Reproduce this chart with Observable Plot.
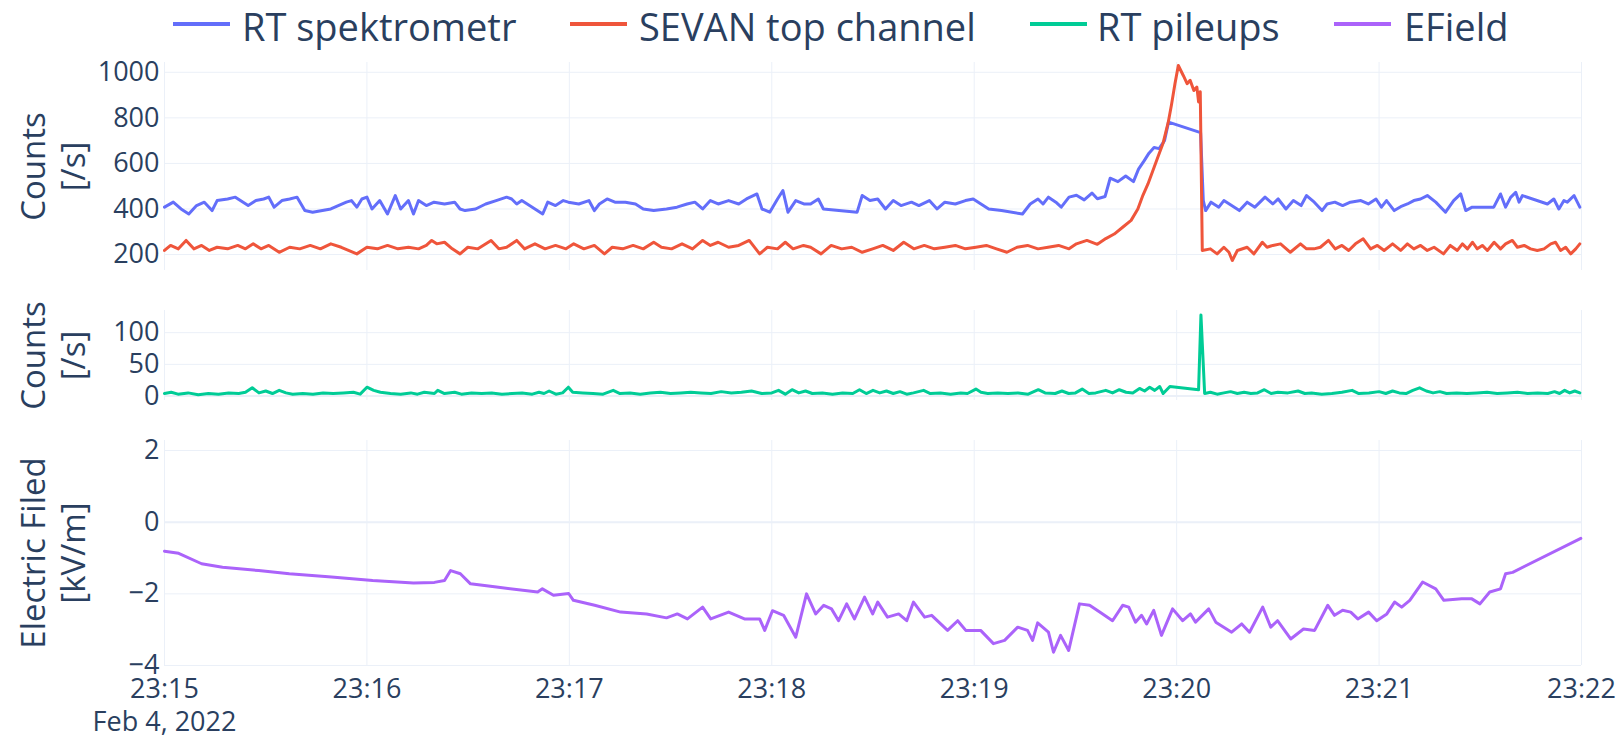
<!DOCTYPE html>
<html><head><meta charset="utf-8">
<script src="https://cdn.jsdelivr.net/npm/d3@7"></script>
<script src="https://cdn.jsdelivr.net/npm/@observablehq/plot@0.6"></script>
<style>
html,body{margin:0;padding:0;background:#fff;}
#chart{position:relative;width:1620px;height:738px;background:#fff;font-family:"Open Sans",sans-serif;color:#2a3f5f;overflow:hidden;}
#chart svg{position:absolute;left:0;overflow:visible;}
.lg-line{position:absolute;height:4px;top:22px;}
.lg-text{position:absolute;top:0px;font-size:38px;line-height:52px;white-space:nowrap;color:#2a3f5f;}
</style></head><body><div id="chart"></div><script>
// ---- legend / series
const seriesNames = ["RT spektrometr", "SEVAN top channel", "RT pileups", "EField"];
const seriesColors = ["#636efa", "#EF553B", "#00cc96", "#ab63fa"];
// ---- axes
const xTickMinutes = [0, 1, 2, 3, 4, 5, 6, 7];
const dateLabel = "Feb 4, 2022";
const countsTicks = [200, 400, 600, 800, 1000];
const pileTicks = [0, 50, 100];
const efTicks = [-4, -2, 0, 2];
const axisTitles = ["Counts\n[/s]", "Counts\n[/s]", "Electric Filed\n[kV/m]"];

// ---- data: seconds after 23:15:00 and values
const rtSpekSec = [
 0,2.6,4.9,7.2,9.5,11.8,14.1,15.6,18.7,21,
 22.5,24.8,27.1,29.4,30.9,32.5,34.8,37.1,39.3,41.6,
 43.9,49.3,53.9,55.4,57,58.5,60,61.5,63.8,66.1,
 68.4,70,72.3,73.8,75.3,77.6,79.9,83,86,87.6,
 89.1,92.2,95.2,98.3,101.4,102.9,104.4,105.9,109,112.1,
 113.6,115.9,118.2,119.7,122.8,125.8,127.4,128.9,131.2,133.5,
 136.6,139.6,141.9,145,148.8,151.9,154.9,157.2,159.5,161.8,
 164.1,167.2,170.2,172.5,175.6,177.1,179.4,181.7,183.3,184.8,
 187.1,189.5,191.5,193.8,195.3,199.9,205.3,206.8,209.1,211.4,
 213.7,216,218.3,221.4,223.6,226.7,229,231.3,234.4,237.4,
 239.7,242,244.3,248.1,254.3,256.6,258.9,260.4,262,264.2,
 265.8,268.1,270.3,272.6,274.9,276.5,278.8,280.3,282.6,284.9,
 287.2,288.7,290.3,291.8,293.3,294.8,296.4,297.6,307.1,307.9,
 308.6,310.2,312.5,314,316.3,318.6,320.9,323.2,326.2,328.5,
 330.1,332.4,334.6,336.9,338.5,340.8,343.1,344.6,346.9,349.2,
 351.5,354.6,356.8,359.1,360.7,362.2,364.5,366.4,368.4,370.3,
 372.3,374.3,376.8,379.7,382.1,384.2,385.7,387.6,394,396,
 397.5,399,400.5,401.5,402.5,409.9,411.8,413.3,414.8,415.8,
 417.8,419.5];
const rtSpekVal = [
 408,430,400,378,415,430,393,437,444,452,
 437,415,437,444,452,408,437,444,452,393,
 386,400,430,437,408,444,452,400,437,378,
 459,400,437,378,437,415,430,422,430,400,
 393,400,422,437,452,444,422,437,408,378,
 430,415,437,430,422,437,393,422,444,430,
 430,422,400,393,400,408,422,430,400,437,
 422,437,422,444,466,400,386,444,481,386,
 437,422,422,444,400,393,386,459,437,444,
 400,437,415,430,415,437,400,430,422,437,
 444,422,400,393,378,422,444,422,452,430,
 408,452,460,440,470,445,455,535,520,545,
 520,575,610,645,670,665,700,781,735,437,
 393,430,408,437,415,393,430,408,452,422,
 444,400,437,415,459,430,393,422,430,415,
 430,437,422,444,408,437,393,410,422,437,
 444,459,430,386,437,466,393,408,408,466,
 408,451,473,430,459,422,444,400,437,430,
 459,408];

const sevanSec = [
 0,1.8,4.1,6.4,8.7,11,13.3,15.6,18.7,21.7,
 24,26.3,28.6,30.9,34,37.1,40.1,43.2,46.2,49.3,
 52.4,57,60,63.1,66.1,69.2,72.3,75.3,77.6,79.2,
 80.7,83,85.3,87.6,89.9,92.9,96.8,99.1,101.4,104.4,
 106.7,109.8,112.8,115.9,119,121.3,124.3,127.4,130.4,132.7,
 135.8,138.9,141.9,145,147.3,150.3,153.4,156.5,159.5,161.8,
 164.1,167.2,170.2,173.3,176.4,178.7,181.7,184,186.3,189.4,
 191.5,194.6,197.6,200.7,203.7,206.8,209.9,212.9,216,219.1,
 222.1,225.2,228.2,231.3,234.4,237.4,240.5,243.6,246.6,249.7,
 252.7,255.8,258.9,261.9,265,268.1,270.3,273.4,276.5,279,
 281.5,284,286.5,288.5,290,291.5,293,294.5,296,297.5,
 298.5,299.5,300.5,302,303.1,304,305.1,306,306.5,307,
 307.6,310,312,314,315.5,316.5,318,320.9,322.9,325.4,
 326.8,328.5,330.8,333.7,336.7,338.5,340.7,342.6,345,347,
 349,351,353,355.3,357.5,359.5,361.5,364,366.4,368.4,
 370.3,372.3,374.3,376.3,379.1,381.1,383.2,384.7,386.2,387.7,
 389.1,390.6,392.1,394.1,396,397.5,399.5,401,403,404.9,
 406.9,408.9,410.9,412.3,413.8,415.3,416.8,418.3,419.5];
const sevanVal = [
 218,240,225,262,225,240,218,232,225,240,
 225,247,225,240,210,232,225,240,225,247,
 232,203,232,225,240,225,232,225,240,262,
 247,254,225,203,232,225,262,225,232,262,
 225,247,225,240,225,247,225,240,203,232,
 225,240,225,254,232,225,247,225,262,240,
 254,232,240,262,203,232,225,254,225,240,
 232,203,240,225,232,210,225,240,218,254,
 225,240,225,232,240,225,232,240,225,210,
 232,240,225,232,240,225,247,262,245,270,
 290,320,350,400,460,510,570,630,690,780,
 860,950,1030,985,950,965,920,935,870,915,
 218,225,203,232,210,174,218,232,203,254,
 232,240,247,210,247,225,225,232,262,225,
 240,218,247,269,225,240,218,247,218,247,
 225,240,218,232,203,240,218,247,225,254,
 225,240,218,254,225,247,262,232,240,225,
 218,225,247,254,218,232,203,225,247];

const pileSec = [
 0,2,4,7,10,13,16,19,22,24,
 26,28,30,32,34,36,38,41,44,47,
 50,53,56,58,60,62,64,67,70,73,
 75,77,80,81,83,86,88,91,94,97,
 100,103,106,109,111,112.5,114,116,118,119.7,
 121,124,127,130,133,135,138,141,144,147,
 150,153,156,159,162,165,168,171,174,177,
 180,182,184,186,188,190,192,195,198,201,
 204,206,208,210,212,214,216,218,220,222,
 225,227,230,233,236,238,240.5,242,244,247,
 250,253,256,259,261,264,266,268,270,272,
 274,276,279,281,283,285,287,289,290.5,292,
 293.5,295,296,298,306.5,307.2,308.3,310,312,314,
 316,318,320,322,324,326,328,330,333,336,
 338,340,343,346,349,352,354,357,360,362,
 364,366,368,370,372,374,376,378,380,383,
 386,389,392,395,398,401,404,407,410,412,
 413.5,415,416.5,418,419.5];
const pileVal = [
 4,6,3,5,2,4,3,5,4,6,
 13,5,8,4,9,5,3,4,3,5,
 4,5,6,3,14,9,6,4,3,5,
 3,6,4,9,4,6,3,5,4,5,
 3,4,5,3,6,4,8,3,5,14,
 6,5,4,3,9,4,5,3,5,6,
 4,5,6,5,4,7,5,6,8,4,
 5,9,3,10,5,8,4,5,3,5,
 4,10,4,9,5,8,4,7,3,5,
 9,4,5,3,5,4,11,6,4,5,
 4,5,3,10,5,4,8,4,5,11,
 4,5,9,5,10,6,5,12,8,14,
 9,15,4,15,10,128,4,6,3,5,
 7,4,6,4,5,10,4,6,5,8,
 4,5,3,4,6,9,4,5,7,4,
 8,5,4,9,13,8,5,7,4,5,
 4,5,6,4,5,6,4,5,4,7,
 4,9,5,8,5];

const efSec = [
 0,4.2,11,17.2,27.9,37,49.5,61.7,73.8,80,
 83,84.8,87.7,90.7,98.4,110.6,112,115.3,119.8,121.2,
 127.5,135.2,142.9,148.8,152,155,159.5,161.9,167.2,171.9,
 176.4,177.9,180.2,183.5,187.1,190.3,193,195.4,197.7,199.8,
 202.2,204.5,207.5,209.9,211.4,214.3,217.6,220,222,225.3,
 227.4,232.1,235.1,237.5,241.9,245.7,249,252.9,255.8,257.3,
 258.8,262,263.5,265.6,268,271.2,274.2,277.2,281,284,
 285.8,287.8,289.6,291.1,293.2,295.5,298.8,301.8,304.1,305.6,
 309.5,311.6,316.3,319.3,321.6,325.5,327.9,329.9,333.8,337.6,
 340.9,344.8,346.8,349.2,351.6,353.7,356.9,359.3,362.3,364.6,
 366.7,369.1,372.9,376.8,379.2,384.5,387.5,389.9,392.8,396,
 397.5,399.6,419.8];
const efVal = [
 -0.81,-0.87,-1.16,-1.26,-1.35,-1.44,-1.53,-1.63,-1.70,-1.68,
 -1.63,-1.35,-1.44,-1.72,-1.81,-1.95,-1.86,-2.04,-1.99,-2.18,
 -2.32,-2.51,-2.56,-2.67,-2.56,-2.70,-2.37,-2.70,-2.51,-2.70,
 -2.70,-3.02,-2.47,-2.60,-3.21,-2.00,-2.56,-2.32,-2.42,-2.75,
 -2.28,-2.70,-2.09,-2.56,-2.23,-2.65,-2.56,-2.75,-2.23,-2.65,
 -2.60,-3.02,-2.75,-3.02,-3.02,-3.39,-3.30,-2.93,-3.02,-3.30,
 -2.81,-3.07,-3.63,-3.16,-3.58,-2.28,-2.32,-2.51,-2.75,-2.32,
 -2.37,-2.79,-2.60,-2.84,-2.46,-3.16,-2.42,-2.75,-2.56,-2.79,
 -2.42,-2.79,-3.07,-2.84,-3.07,-2.37,-2.93,-2.75,-3.26,-2.98,
 -3.02,-2.32,-2.60,-2.46,-2.51,-2.70,-2.51,-2.75,-2.56,-2.23,
 -2.37,-2.18,-1.67,-1.86,-2.18,-2.14,-2.14,-2.28,-1.95,-1.86,
 -1.44,-1.40,-0.45];

// ---- build
const start = Date.UTC(2022, 1, 4, 23, 15, 0);
const at = s => new Date(start + s * 1000);
const toRows = (secs, vals) => secs.map((s, i) => ({t: at(s), v: vals[i]}));
const rtSpek = toRows(rtSpekSec, rtSpekVal);
const sevan = toRows(sevanSec, sevanVal);
const pile = toRows(pileSec, pileVal);
const efield = toRows(efSec, efVal);
const xDomain = [at(0), at(420)];
const xTicks = xTickMinutes.map(m => at(m * 60));

const GRID = "#EBF0F8", INK = "#2a3f5f";
const fmtNum = d => d < 0 ? "\u2212" + Math.abs(d) : String(d);
const chart = document.getElementById("chart");

function panel(o) {
  const marks = [
    Plot.gridX(xTicks, {stroke: GRID, strokeOpacity: 1, strokeWidth: 1}),
    Plot.gridY(o.yTicks, {stroke: GRID, strokeOpacity: 1, strokeWidth: 1})
  ];
  if (o.zero) marks.push(Plot.ruleY([0], {stroke: GRID, strokeOpacity: 1, strokeWidth: 2}));
  marks.push(Plot.axisY(o.yTicks, {tickSize: 0, tickPadding: 5, fontSize: 27, color: INK, label: null, tickFormat: fmtNum}));
  for (const s of o.series) {
    marks.push(Plot.line(s.data, {x: "t", y: "v", stroke: s.color, strokeWidth: 3, strokeLinejoin: "round"}));
  }
  marks.push(Plot.text([o.title], {frameAnchor: "left", textAnchor: "middle", dx: -112, rotate: -90, fontSize: 33, fill: INK, lineHeight: 1.21, lineAnchor: "middle"}));
  if (o.xAxis) {
    marks.push(Plot.axisX(xTicks, {tickSize: 0, tickPadding: 13, fontSize: 27, color: INK, label: null, tickFormat: d3.utcFormat("%H:%M")}));
    marks.push(Plot.text([dateLabel], {x: [xTicks[0]], frameAnchor: "bottom", textAnchor: "middle", lineAnchor: "top", dy: 46, fontSize: 27, fill: INK}));
  }
  const svg = Plot.plot({
    width: 1620, height: o.height,
    marginTop: o.mt, marginBottom: o.mb, marginLeft: 164, marginRight: 39,
    x: {type: "utc", domain: xDomain, axis: null},
    y: {domain: o.yDomain, axis: null},
    style: {background: "transparent", overflow: "visible", fontFamily: "Open Sans", color: INK},
    marks
  });
  svg.style.top = o.top + "px";
  chart.appendChild(svg);
}

panel({top: 0, height: 270, mt: 62, mb: 0, yDomain: [130, 1043], yTicks: countsTicks, title: axisTitles[0],
  series: [{data: rtSpek, color: seriesColors[0]}, {data: sevan, color: seriesColors[1]}]});
panel({top: 270, height: 130, mt: 40, mb: 0, yDomain: [-7, 135], yTicks: pileTicks, title: axisTitles[1], zero: true,
  series: [{data: pile, color: seriesColors[2]}]});
panel({top: 400, height: 338, mt: 40, mb: 73, yDomain: [-4, 2.28], yTicks: efTicks, title: axisTitles[2], zero: true, xAxis: true,
  series: [{data: efield, color: seriesColors[3]}]});

// ---- legend
const legendLineX = [173, 570, 1030, 1334];
const legendTextX = [242, 639, 1097, 1404];
seriesNames.forEach((name, i) => {
  const ln = document.createElement("div");
  ln.className = "lg-line";
  ln.style.left = legendLineX[i] + "px";
  ln.style.width = "57px";
  ln.style.background = seriesColors[i];
  chart.appendChild(ln);
  const tx = document.createElement("div");
  tx.className = "lg-text";
  tx.style.left = legendTextX[i] + "px";
  tx.textContent = name;
  chart.appendChild(tx);
});
</script></body></html>
